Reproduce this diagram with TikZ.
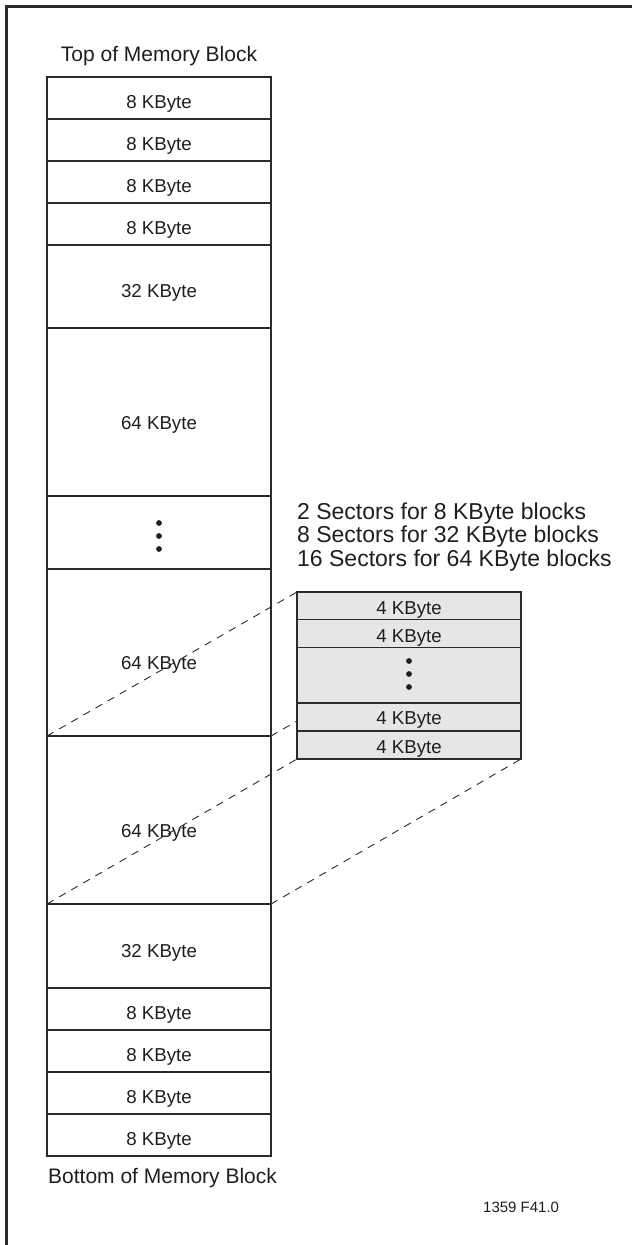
\documentclass[tikz,border=0pt]{standalone}
\usepackage{fontspec}
\setmainfont{Liberation Sans}
\definecolor{gfill}{HTML}{E6E6E6}
\definecolor{ink}{HTML}{2A2A2A}
\definecolor{txt}{HTML}{1E1E1E}
\begin{document}
\begin{tikzpicture}[x=1pt,y=-1pt,
  rowbox/.style={draw=ink, line width=1.5pt, minimum width=224pt, inner sep=0pt, outer sep=0pt, anchor=north west},
  grayrow/.style={rowbox, fill=gfill},
  lbl/.style={text=txt, font=\fontsize{18.7}{20}\selectfont, inner sep=0pt, anchor=base},
  big/.style={text=txt, font=\fontsize{21}{23}\selectfont, inner sep=0pt},
  note/.style={text=txt, font=\fontsize{23}{24}\selectfont, inner sep=0pt, anchor=base west},
  proj/.style={draw=ink, line width=0.9pt, dash pattern=on 7.5pt off 6.5pt},
  dotf/.style={fill=txt}]
\useasboundingbox (0,0) rectangle (632,1245);
% frame
\draw[line width=2.5pt, ink] (6.5,1245) -- (6.5,6.5) -- (632,6.5);
% titles
\node[big, anchor=base] (top) at (159,61) {Top of Memory Block};
\node[big, anchor=base west] (bot) at (48,1183) {Bottom of Memory Block};
\node[text=txt, font=\fontsize{15}{17}\selectfont, inner sep=0pt, anchor=base west] (fig) at (483,1212) {1359 F41.0};
% column
\node[rowbox, minimum height=42pt] (r1) at (47,77) {};
\node[rowbox, minimum height=42pt] (r2) at (47,119) {};
\node[rowbox, minimum height=42pt] (r3) at (47,161) {};
\node[rowbox, minimum height=42pt] (r4) at (47,203) {};
\node[rowbox, minimum height=83pt] (r5) at (47,245) {};
\node[rowbox, minimum height=168pt] (r6) at (47,328) {};
\node[rowbox, minimum height=73pt] (r7) at (47,496) {};
\node[rowbox, minimum height=167pt] (r8) at (47,569) {};
\node[rowbox, minimum height=168pt] (r9) at (47,736) {};
\node[rowbox, minimum height=84pt] (r10) at (47,904) {};
\node[rowbox, minimum height=42pt] (r11) at (47,988) {};
\node[rowbox, minimum height=42pt] (r12) at (47,1030) {};
\node[rowbox, minimum height=42pt] (r13) at (47,1072) {};
\node[rowbox, minimum height=42pt] (r14) at (47,1114) {};
% column labels
\node[lbl] (l1) at (159,108) {8 KByte};
\node[lbl] (l2) at (159,150) {8 KByte};
\node[lbl] (l3) at (159,192) {8 KByte};
\node[lbl] (l4) at (159,234) {8 KByte};
\node[lbl] (l5) at (159,297) {32 KByte};
\node[lbl] (l6) at (159,429) {64 KByte};
\node[lbl] (l8) at (159,669) {64 KByte};
\node[lbl] (l9) at (159,837) {64 KByte};
\node[lbl] (l10) at (159,957) {32 KByte};
\node[lbl] (l11) at (159,1019) {8 KByte};
\node[lbl] (l12) at (159,1061) {8 KByte};
\node[lbl] (l13) at (159,1103) {8 KByte};
\node[lbl] (l14) at (159,1145) {8 KByte};
% dots in column
\fill[dotf] (159,523) circle[radius=2.9pt];
\fill[dotf] (159,536) circle[radius=2.9pt];
\fill[dotf] (159,549) circle[radius=2.9pt];
% sector note
\node[note] (n1) at (297,519) {2 Sectors for 8 KByte blocks};
\node[note] (n2) at (297,542.5) {8 Sectors for 32 KByte blocks};
\node[note] (n3) at (297,566) {16 Sectors for 64 KByte blocks};
% gray box corners
\coordinate (gnw) at (297,592);
\coordinate (gne) at (521,592);
\coordinate (gsw) at (297,759);
\coordinate (gse) at (521,759);
% projection lines
\draw[proj] (r9.north west) -- (gnw);
\draw[proj] (r9.north east) -- (gne);
\draw[proj] (r9.south west) -- (gsw);
\draw[proj] (r9.south east) -- (gse);
% gray box
\node[grayrow, minimum height=27.5pt] (g1) at (297,592) {};
\node[grayrow, minimum height=28pt] (g2) at (297,619.5) {};
\node[grayrow, minimum height=55.5pt] (g3) at (297,647.5) {};
\node[grayrow, minimum height=28pt] (g4) at (297,703) {};
\node[grayrow, minimum height=28pt] (g5) at (297,731) {};
\node[lbl] (k1) at (409,614) {4 KByte};
\node[lbl] (k2) at (409,642) {4 KByte};
\node[lbl] (k4) at (409,724) {4 KByte};
\node[lbl] (k5) at (409,753) {4 KByte};
\fill[dotf] (409,661) circle[radius=2.9pt];
\fill[dotf] (409,674) circle[radius=2.9pt];
\fill[dotf] (409,687) circle[radius=2.9pt];
\end{tikzpicture}
\end{document}
